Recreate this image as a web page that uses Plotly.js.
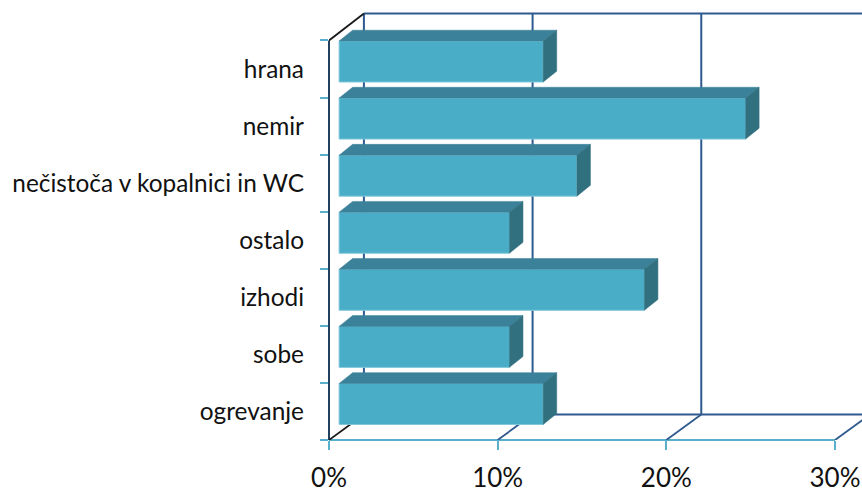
<!DOCTYPE html>
<html>
<head>
<meta charset="utf-8">
<script src="https://cdn.plot.ly/plotly-3.0.1.min.js"></script>
<style>html,body{margin:0;padding:0;background:#fff}#c{width:862px;height:488px}</style>
</head>
<body>
<div id="c"></div>
<script>
const categories = ["ogrevanje","sobe","izhodi","ostalo","nečistoča v kopalnici in WC","nemir","hrana"];
const values = [12.1,10.1,18.1,10.1,14.1,24.1,12.1];
const xTicks = [0,10,20,30];
const xTickLabels = ["0%","10%","20%","30%"];

const barStart = 0.6, barOffset = -0.2275, barWidth = 0.7175;
const sideDx = 0.8, sideDy = 0.19;
const wallDx = 2.07, wallDyTop = 0.473, wallDyBottom = 0.445;
const yMin = -0.5, yMax = 6.5, yTop = 7.209, xTop = 31.6;
const FRONT = "#49ADC8", TOP = "#3A8199", SIDE = "#31707F", EDGE = "#7FC6DA";
const GRID = "#2F5A8F", AXIS = "#5AAFCB", DARK = "#22405F";

const line = (x0,y0,x1,y1,color,width) => ({type:"line",layer:"below",xref:"x",yref:"y",x0,y0,x1,y1,line:{color,width}});
const shapes = [];
xTicks.forEach(t => {
  shapes.push(line(t+wallDx, yMin+wallDyBottom, t+wallDx, yMax+wallDyTop, GRID, 2));
  if (t > 0) shapes.push(line(t, yMin, t+wallDx, yMin+wallDyBottom, GRID, 1.8));
});
shapes.push(line(wallDx, yMax+wallDyTop, xTop, yMax+wallDyTop, GRID, 2));
shapes.push(line(wallDx, yMin+wallDyBottom, xTop, yMin+wallDyBottom, GRID, 2));
shapes.push(line(0, yMax, wallDx, yMax+wallDyTop, "#1a1a1a", 1.8));
shapes.push(line(0, yMin, wallDx, yMin+wallDyBottom, "#1a1a1a", 1.8));
// Front axis lines: anchored to the plot edge so they are not cut in half by the axis clip.
shapes.push({type:"line",layer:"below",xref:"paper",yref:"y",x0:0,x1:0,y0:yMin,y1:yMax,line:{color:DARK,width:2}});
shapes.push({type:"line",layer:"below",xref:"x",yref:"paper",x0:0,x1:xTicks[3],y0:0,y1:0,line:{color:AXIS,width:2}});

const front = {
  type:"bar", orientation:"h", y:categories, x:values, base:barStart,
  offset:barOffset, width:barWidth, cliponaxis:false, hoverinfo:"skip",
  marker:{color:FRONT, line:{color:EDGE, width:1}}
};
const topX = [], topY = [], sideX = [], sideY = [];
values.forEach((v,i) => {
  const r = barStart+v, t = i+barOffset+barWidth, b = i+barOffset;
  topX.push(barStart, r, r+sideDx, barStart+sideDx, barStart, null);
  topY.push(t, t, t+sideDy, t+sideDy, t, null);
  sideX.push(r, r+sideDx, r+sideDx, r, r, null);
  sideY.push(b, b+sideDy, t+sideDy, t, b, null);
});
const face = (x,y,color) => ({type:"scatter", mode:"lines", x, y, yaxis:"y2", fill:"toself", fillcolor:color,
  line:{color, width:0.5}, hoverinfo:"skip", cliponaxis:false});

Plotly.newPlot("c", [front, face(topX,topY,TOP), face(sideX,sideY,SIDE)], {
  width:862, height:488, showlegend:false, bargap:0,
  paper_bgcolor:"#fff", plot_bgcolor:"rgba(0,0,0,0)",
  margin:{l:329, r:0, t:0, b:47.5, pad:0},
  font:{family:"Lato, Carlito, sans-serif", color:"#111"},
  xaxis:{range:[0,xTop], tickmode:"array", tickvals:xTicks, ticktext:xTickLabels, showgrid:false, zeroline:false,
    showline:false, ticks:"outside", ticklen:9, tickwidth:2, tickcolor:AXIS, tickfont:{size:26}, ticklabelstandoff:6, automargin:false},
  yaxis:{type:"category", categoryorder:"array", categoryarray:categories, range:[yMin,yTop], showgrid:false, zeroline:false,
    showline:false, tickson:"boundaries", ticks:"outside", ticklen:8, tickwidth:2, tickcolor:AXIS, tickfont:{size:24.4}, ticklabelstandoff:24, automargin:false},
  yaxis2:{overlaying:"y", range:[yMin,yTop], visible:false, type:"linear"},
  shapes
}, {displayModeBar:false, staticPlot:true});
</script>
</body>
</html>
